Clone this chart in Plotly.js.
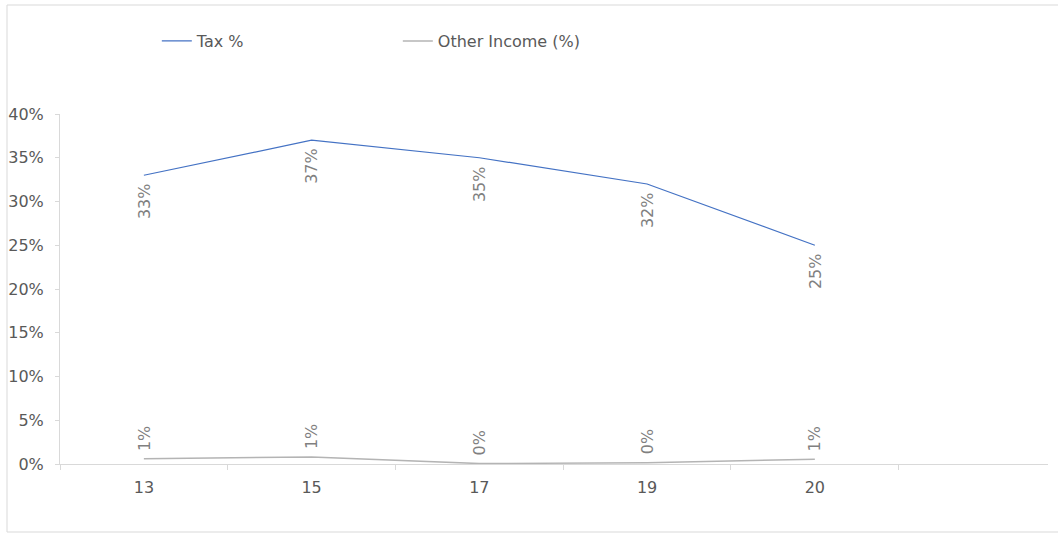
<!DOCTYPE html>
<html>
<head>
<meta charset="utf-8">
<script src="https://cdn.plot.ly/plotly-3.0.1.min.js"></script>
<style>
html,body{margin:0;padding:0;background:#fff;}
#chart{width:1058px;height:533px;}
</style>
</head>
<body>
<div id="chart"></div>
<script>
// ---- data ----
const categories = ['13', '15', '17', '19', '20'];
const taxPct = [33, 37, 35, 32, 25];
const otherIncomePct = [0.6, 0.8, 0.05, 0.15, 0.55];
const seriesNames = ['Tax %', 'Other Income (%)'];

const FONT = 'DejaVu Sans, Verdana, sans-serif';
const FS = 16;
const axisGray = '#d9d9d9';
const textGray = '#595959';
const labelGray = '#808080';

const toFrac = v => v / 100;

const traces = [
  {
    type: 'scatter', mode: 'lines', name: seriesNames[0],
    x: categories, y: taxPct.map(toFrac),
    line: {color: '#4472c4', width: 1.25},
    hoverinfo: 'skip'
  },
  {
    type: 'scatter', mode: 'lines', name: seriesNames[1],
    x: categories, y: otherIncomePct.map(toFrac),
    line: {color: '#b4b4b4', width: 1.5},
    hoverinfo: 'skip'
  }
];

const annotations = [];
categories.forEach((c, i) => {
  annotations.push({
    x: i, y: toFrac(taxPct[i]), xref: 'x', yref: 'y',
    text: Math.round(taxPct[i]) + '%', showarrow: false,
    textangle: -90, xanchor: 'center', yanchor: 'top', yshift: -6,
    font: {family: FONT, size: FS, color: labelGray}
  });
  annotations.push({
    x: i, y: toFrac(otherIncomePct[i]), xref: 'x', yref: 'y',
    text: Math.round(otherIncomePct[i]) + '%', showarrow: false,
    textangle: -90, xanchor: 'center', yanchor: 'bottom', yshift: 6,
    font: {family: FONT, size: FS, color: labelGray}
  });
});

const layout = {
  width: 1058, height: 533,
  margin: {l: 60, r: 10, t: 114, b: 69, pad: 0},
  paper_bgcolor: '#ffffff', plot_bgcolor: '#ffffff',
  font: {family: FONT, size: FS, color: textGray},
  showlegend: true,
  legend: {
    orientation: 'h', x: 0.098, xanchor: 'left', y: 1.2086, yanchor: 'middle',
    entrywidth: 196, entrywidthmode: 'pixels',
    bgcolor: 'rgba(0,0,0,0)', font: {family: FONT, size: FS, color: textGray},
    itemclick: false, itemdoubleclick: false
  },
  xaxis: {
    type: 'category', range: [-0.5, 5.39],
    showgrid: false, zeroline: false,
    showline: true, linecolor: axisGray, linewidth: 1,
    ticks: 'outside', ticklen: 5, tickcolor: axisGray, tickwidth: 1,
    tickson: 'boundaries', ticklabelstandoff: 9,
    tickfont: {family: FONT, size: FS, color: textGray},
    fixedrange: true
  },
  yaxis: {
    range: [0, 0.40], dtick: 0.05, tick0: 0, tickformat: '.0%',
    showgrid: false, zeroline: false,
    showline: true, linecolor: axisGray, linewidth: 1,
    ticks: 'outside', ticklen: 4, tickcolor: axisGray, tickwidth: 1,
    ticklabelstandoff: 8,
    tickfont: {family: FONT, size: FS, color: textGray},
    fixedrange: true
  },
  annotations: annotations,
  shapes: [{
    type: 'rect', xref: 'paper', yref: 'paper',
    x0: (7 - 60) / 988, x1: (1070 - 60) / 988,
    y0: (464 - 532) / 350, y1: (464 - 5) / 350,
    line: {color: axisGray, width: 1}, fillcolor: 'rgba(0,0,0,0)', layer: 'below'
  }]
};

Plotly.newPlot('chart', traces, layout, {displayModeBar: false, staticPlot: true});
</script>
</body>
</html>
